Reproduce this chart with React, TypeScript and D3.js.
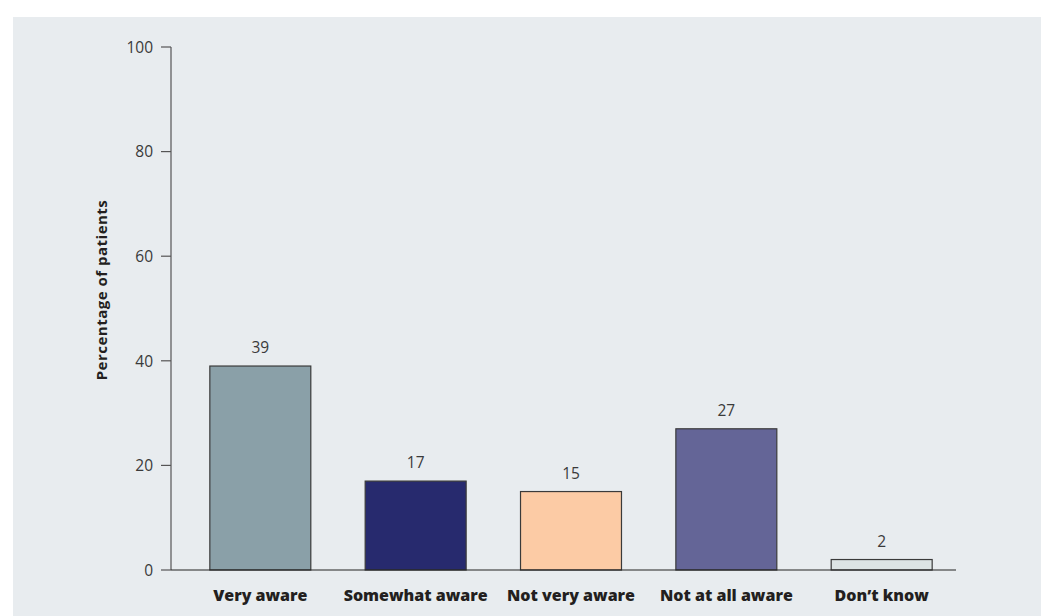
import React from "react";
import * as d3 from "d3";

const categories = ["Very aware", "Somewhat aware", "Not very aware", "Not at all aware", "Don’t know"];
const values = [39, 17, 15, 27, 2];
const barColors = ["#8aa0a8", "#272a6e", "#fccba5", "#646597", "#dde4e4"];
const yTicks = [0, 20, 40, 60, 80, 100];

const W = 1049;
const H = 616;

export default function App() {
  const y = d3.scaleLinear().domain([0, 100]).range([570, 47]);
  const x = d3
    .scaleBand<string>()
    .domain(categories)
    .range([171, 971])
    .paddingInner(0.35)
    .paddingOuter(0.25);
  const axisX0 = 171;
  const axisX1 = 956;
  const font = "'Open Sans', 'Noto Sans', sans-serif";

  return (
    <svg
      width={W}
      height={H}
      style={{ position: "fixed", left: 0, top: 0 }}
      fontFamily={font}
    >
      <rect x={13} y={17} width={1028} height={H - 17} fill="#e8ecef" />

      {/* y axis */}
      <line x1={axisX0} x2={axisX0} y1={y(100)} y2={y(0)} stroke="#555" strokeWidth={1.2} />
      {yTicks.map((t) => (
        <g key={t}>
          <line x1={axisX0 - 10} x2={axisX0} y1={y(t)} y2={y(t)} stroke="#555" strokeWidth={1.2} />
          <text
            x={153}
            y={y(t)}
            dy="0.37em"
            textAnchor="end"
            fontSize={15.5}
            fontWeight={400}
            fill="#3a3a3a"
          >
            {t}
          </text>
        </g>
      ))}
      <text
        transform={`translate(107,${290}) rotate(-90)`}
        textAnchor="middle"
        fontSize={15}
        fontWeight={700}
        letterSpacing={0.5}
        fill="#231f20"
      >
        Percentage of patients
      </text>

      {/* bars */}
      {categories.map((c, i) => {
        const bx = x(c)!;
        const bw = x.bandwidth();
        return (
          <g key={c}>
            <rect
              x={bx}
              y={y(values[i])}
              width={bw}
              height={y(0) - y(values[i])}
              fill={barColors[i]}
              stroke="#3a3a3a"
              strokeWidth={1.2}
            />
            <text
              x={bx + bw / 2}
              y={y(values[i]) - 13}
              textAnchor="middle"
              fontSize={15.5}
              fontWeight={400}
              fill="#3a3a3a"
            >
              {values[i]}
            </text>
            <text
              x={bx + bw / 2}
              y={601}
              textAnchor="middle"
              fontSize={16}
              fontWeight={800}
              fill="#231f20"
            >
              {c}
            </text>
          </g>
        );
      })}

      {/* x axis */}
      <line x1={axisX0} x2={axisX1} y1={y(0)} y2={y(0)} stroke="#222" strokeWidth={1.2} />
    </svg>
  );
}
